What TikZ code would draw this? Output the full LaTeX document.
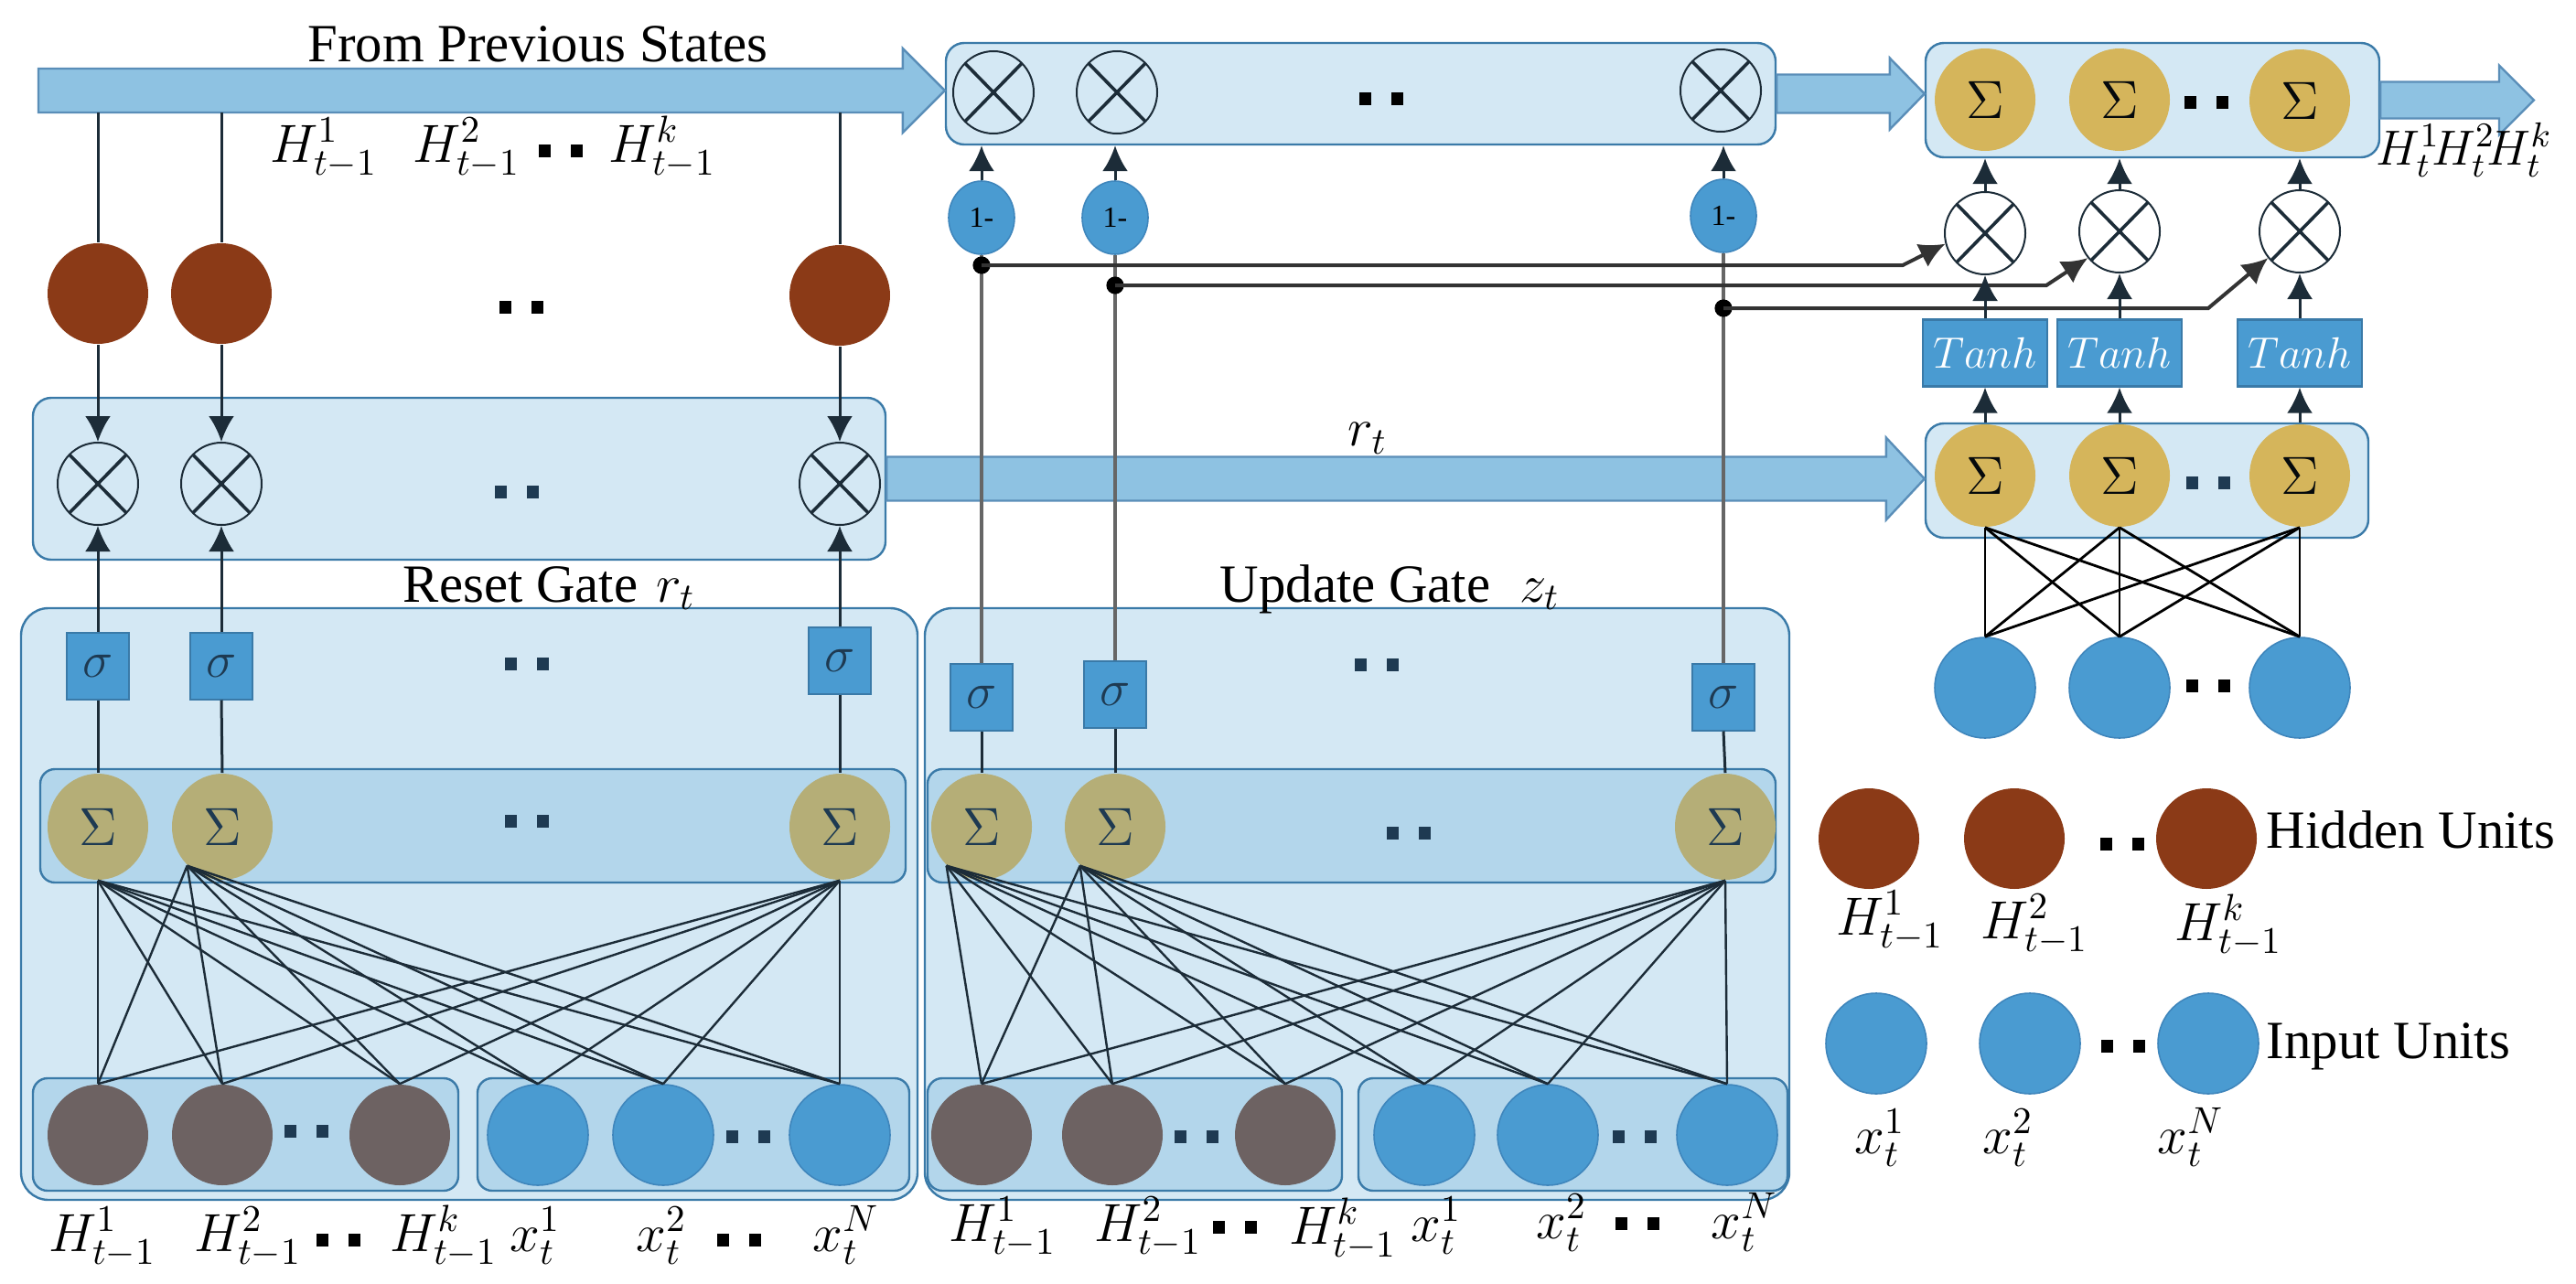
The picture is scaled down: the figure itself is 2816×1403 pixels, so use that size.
\RequirePackage{fix-cm}
\documentclass[tikz,border=0pt]{standalone}
\usepackage{fontspec}
\setmainfont{Liberation Serif}
\usetikzlibrary{shapes.geometric,arrows.meta,calc,fit}
\definecolor{boxfill}{HTML}{D4E8F4}
\definecolor{rowfill}{HTML}{B3D6EB}
\definecolor{boxline}{HTML}{3A7AA8}
\definecolor{arrfill}{HTML}{8EC2E2}
\definecolor{arrline}{HTML}{5A8EB8}
\definecolor{brownu}{HTML}{8B3A17}
\definecolor{hidu}{HTML}{6D6262}
\definecolor{blueu}{HTML}{4A9BD1}
\definecolor{blueline}{HTML}{3F86BC}
\definecolor{olivec}{HTML}{B5AE77}
\definecolor{goldc}{HTML}{D5B55B}
\definecolor{navy}{HTML}{1E3A52}
\definecolor{otc}{HTML}{1C2C38}
\newcommand\dd{\rule{3.25pt}{3.5pt}\hspace{5.5pt}\rule{3.25pt}{3.5pt}}
\newcommand\blockarrow[5]{%
  \draw[bigarr] ($(#1)+(0,-#3)$) -- ($(#2)+(-#5,-#3)$) -- ($(#2)+(-#5,-#4)$) -- (#2) -- ($(#2)+(-#5,#4)$) -- ($(#2)+(-#5,#3)$) -- ($(#1)+(0,#3)$) -- cycle;}
\begin{document}
\begin{tikzpicture}[x=0.25pt,y=-0.25pt,
  lbox/.style={draw=boxline, fill=boxfill, line width=0.6pt, rounded corners=5pt, inner sep=0pt},
  rbox/.style={draw=boxline, fill=rowfill, line width=0.6pt, rounded corners=4pt, inner sep=0pt},
  bigarr/.style={fill=arrfill, draw=arrline, line width=0.6pt},
  unit/.style={circle, minimum size=27.5pt, inner sep=0pt},
  brownunit/.style={unit, fill=brownu},
  hidunit/.style={unit, fill=hidu},
  inunit/.style={unit, fill=blueu, draw=blueline, line width=0.4pt},
  sumo/.style={ellipse, fill=olivec, minimum width=27.5pt, minimum height=29pt, inner sep=0pt, text=navy, font=\fontsize{14.7}{16}\selectfont},
  sumg/.style={ellipse, fill=goldc, minimum width=27.5pt, minimum height=28pt, inner sep=0pt, text=black!85!navy, font=\fontsize{14.7}{16}\selectfont},
  mult/.style={ellipse, draw=otc, line width=0.5pt, minimum width=22pt, minimum height=22.5pt, inner sep=0pt,
     path picture={\draw[otc, line width=0.9pt] (path picture bounding box.north west) -- (path picture bounding box.south east)
       (path picture bounding box.north east) -- (path picture bounding box.south west);}},
  sig/.style={rectangle, fill=blueu, draw=boxline, line width=0.5pt, minimum width=17pt, minimum height=18.25pt, inner sep=0pt, text=navy, font=\fontsize{14}{16}\selectfont},
  tanhbox/.style={rectangle, fill=blueu, draw=boxline, line width=0.6pt, minimum width=34pt, minimum height=18.25pt, inner sep=0pt, text=white, font=\fontsize{12}{14}\selectfont},
  onem/.style={ellipse, fill=blueu, draw=blueline, line width=0.4pt, minimum width=18pt, minimum height=20pt, inner sep=0pt, font=\fontsize{8}{9}\selectfont},
  dots/.style={inner sep=0pt, text=navy},
  dotsb/.style={inner sep=0pt, text=black},
  lab/.style={inner sep=0pt, font=\fontsize{14.7}{17}\selectfont},
  jdot/.style={circle, fill=black, minimum size=4.8pt, inner sep=0pt},
  ln/.style={draw=otc, line width=0.75pt},
  arr/.style={ln, -{Latex[length=7pt,width=7pt]}},
  gln/.style={draw=black!60, line width=1pt},
  wire/.style={draw=otc, line width=0.6pt},
  bwire/.style={draw=black, line width=0.7pt}
]
\useasboundingbox (0,0) rectangle (2816,1403);

% ---------------- containers ----------------
\node[lbox, rounded corners=7.5pt, fit={(23,665)(1003,1312)}] (rbig) {};
\node[rbox, fit={(44,841)(990,965)}] (rsumrow) {};
\node[rbox, fit={(36,1179)(501,1302)}] (rhidrow) {};
\node[rbox, fit={(522,1179)(994,1302)}] (rinrow) {};
\node[lbox, fit={(36,435)(968,612)}] (rmulrow) {};

\node[lbox, rounded corners=7.5pt, fit={(1011,665)(1956,1312)}] (ubig) {};
\node[rbox, fit={(1014,841)(1941,965)}] (usumrow) {};
\node[rbox, fit={(1014,1179)(1467,1302)}] (uhidrow) {};
\node[rbox, fit={(1485,1179)(1954,1302)}] (uinrow) {};
\node[lbox, fit={(1034,47)(1941,158)}] (umulrow) {};

\node[lbox, fit={(2105,47)(2601,172)}] (hsumrow) {};
\node[lbox, fit={(2105,463)(2589,588)}] (csumrow) {};

% ---------------- block arrows ----------------
\coordinate (a1s) at (42,99);
\coordinate (a1t) at (umulrow.west |- a1s);
\blockarrow{a1s}{a1t}{24}{46}{46}
\coordinate (a2t) at (hsumrow.west |- umulrow.east);
\blockarrow{umulrow.east}{a2t}{21}{39}{38}
\coordinate (a3t) at (2770,0 |- hsumrow.east);
\blockarrow{hsumrow.east}{a3t}{20}{38}{38}
\coordinate (a4t) at (csumrow.west |- rmulrow.east);
\blockarrow{rmulrow.east}{a4t}{24}{45}{42}
\coordinate (shaftb) at (0,123);

\node[lab, anchor=base] at (588,67) {From Previous States};
\node[lab] at (1495,479) {$r_t$};

% ---------------- reset gate ----------------
\node[brownunit] (b1) at (107,321) {};
\node[brownunit] (b2) at (242,321) {};
\node[brownunit] (b3) at (918,323) {};
\node[dotsb] at (570,336) {\dd};
\node[lab, anchor=base] at (354,177) {$H^{1}_{t-1}$};
\node[lab, anchor=base] at (510,177) {$H^{2}_{t-1}$};
\node[dotsb] at (613,165) {\dd};
\node[lab, anchor=base] at (724,177) {$H^{k}_{t-1}$};

\node[mult] (m1) at (107,529) {};
\node[mult] (m2) at (242,529) {};
\node[mult] (m3) at (918,529) {};
\node[dots] at (565,538) {\dd};

\node[lab, anchor=base west] at (440,658) {Reset Gate\hspace{5pt}$r_t$};

\node[sig] (rs1) at (107,728) {$\sigma$};
\node[sig] (rs2) at (242,728) {$\sigma$};
\node[sig] (rs3) at (918,722) {$\sigma$};
\node[dots] at (576,726) {\dd};

\node[sumo] (rS1) at (107,904) {$\Sigma$};
\node[sumo] (rS2) at (243,904) {$\Sigma$};
\node[sumo] (rS3) at (918,904) {$\Sigma$};
\node[dots] at (576,898) {\dd};

\node[hidunit] (rh1) at (107,1241) {};
\node[hidunit] (rh2) at (243,1241) {};
\node[hidunit] (rh3) at (437,1241) {};
\node[dots] at (335,1237) {\dd};
\node[inunit] (ri1) at (588,1241) {};
\node[inunit] (ri2) at (725,1241) {};
\node[inunit] (ri3) at (918,1241) {};
\node[dots] at (818,1243) {\dd};

\node[lab, anchor=base] at (112,1368) {$H^{1}_{t-1}$};
\node[lab, anchor=base] at (271,1368) {$H^{2}_{t-1}$};
\node[dotsb] at (370,1356) {\dd};
\node[lab, anchor=base] at (485,1368) {$H^{k}_{t-1}$};
\node[lab, anchor=base] at (585,1368) {$x^{1}_{t}$};
\node[lab, anchor=base] at (723,1368) {$x^{2}_{t}$};
\node[dotsb] at (808,1356) {\dd};
\node[lab, anchor=base] at (925,1368) {$x^{N}_{t}$};

% ---------------- update gate ----------------
\node[mult] (um1) at (1086,101) {};
\node[mult] (um2) at (1221,101) {};
\node[mult] (um3) at (1881,99) {};
\node[dotsb] at (1510,108) {\dd};

\node[onem] (o1) at (1073,238) {1-};
\node[onem] (o2) at (1219,238) {1-};
\node[onem] (o3) at (1884,236) {1-};

\node[lab, anchor=base west] at (1333,658) {Update Gate\hspace{8pt}$z_t$};

\node[sig] (us1) at (1073,762) {$\sigma$};
\node[sig] (us2) at (1219,759) {$\sigma$};
\node[sig] (us3) at (1884,762) {$\sigma$};
\node[dots] at (1505,727) {\dd};

\node[sumo] (uS1) at (1073,904) {$\Sigma$};
\node[sumo] (uS2) at (1219,904) {$\Sigma$};
\node[sumo] (uS3) at (1886,904) {$\Sigma$};
\node[dots] at (1540,911) {\dd};

\node[hidunit] (uh1) at (1073,1241) {};
\node[hidunit] (uh2) at (1216,1241) {};
\node[hidunit] (uh3) at (1405,1241) {};
\node[dots] at (1308,1243) {\dd};
\node[inunit] (ui1) at (1557,1241) {};
\node[inunit] (ui2) at (1692,1241) {};
\node[inunit] (ui3) at (1888,1241) {};
\node[dots] at (1787,1243) {\dd};

\node[lab, anchor=base] at (1096,1357) {$H^{1}_{t-1}$};
\node[lab, anchor=base] at (1255,1357) {$H^{2}_{t-1}$};
\node[dotsb] at (1350,1342) {\dd};
\node[lab, anchor=base] at (1468,1360) {$H^{k}_{t-1}$};
\node[lab, anchor=base] at (1570,1357) {$x^{1}_{t}$};
\node[lab, anchor=base] at (1707,1354) {$x^{2}_{t}$};
\node[dotsb] at (1790,1338) {\dd};
\node[lab, anchor=base] at (1907,1354) {$x^{N}_{t}$};

% ---------------- candidate / output ----------------
\node[sumg] (h1) at (2170,109) {$\Sigma$};
\node[sumg] (h2) at (2317,109) {$\Sigma$};
\node[sumg] (h3) at (2514,110) {$\Sigma$};
\node[dotsb] at (2412,112) {\dd};
\node[lab, font=\fontsize{13.5}{15}\selectfont, anchor=base west] at (2597,180) {$H_t^{1}\!H_t^{2}\!H_t^{k}$};

\node[mult] (x1) at (2170,255) {};
\node[mult] (x2) at (2317,253) {};
\node[mult] (x3) at (2514,253) {};

\node[tanhbox] (t1) at (2170,386) {$Tanh$};
\node[tanhbox] (t2) at (2317,386) {$Tanh$};
\node[tanhbox] (t3) at (2514,386) {$Tanh$};

\node[sumg] (c1) at (2170,520) {$\Sigma$};
\node[sumg] (c2) at (2317,520) {$\Sigma$};
\node[sumg] (c3) at (2514,520) {$\Sigma$};
\node[dots] at (2414,528) {\dd};

\node[inunit] (ci1) at (2170,752) {};
\node[inunit] (ci2) at (2317,752) {};
\node[inunit] (ci3) at (2514,752) {};
\node[dotsb] at (2414,750) {\dd};

% ---------------- legend ----------------
\node[brownunit] (lb1) at (2043,917) {};
\node[brownunit] (lb2) at (2202,917) {};
\node[brownunit] (lb3) at (2412,917) {};
\node[dotsb] at (2320,923) {\dd};
\node[lab, anchor=base west] at (2477,927) {Hidden Units};
\node[lab, anchor=base] at (2066,1022) {$H^{1}_{t-1}$};
\node[lab, anchor=base] at (2224,1026) {$H^{2}_{t-1}$};
\node[lab, anchor=base] at (2436,1028) {$H^{k}_{t-1}$};

\node[inunit] (li1) at (2051,1141) {};
\node[inunit] (li2) at (2219,1141) {};
\node[inunit] (li3) at (2414,1141) {};
\node[dotsb] at (2321,1144) {\dd};
\node[lab, anchor=base west] at (2477,1157) {Input Units};
\node[lab, anchor=base] at (2055,1261) {$x^{1}_{t}$};
\node[lab, anchor=base] at (2195,1261) {$x^{2}_{t}$};
\node[lab, anchor=base] at (2395,1261) {$x^{N}_{t}$};

% ---------------- connectors: reset ----------------
\foreach \b in {b1,b2,b3}{\draw[ln] (\b |- shaftb) -- (\b.north);}
\draw[arr] (b1.south) -- (m1.north);
\draw[arr] (b2.south) -- (m2.north);
\draw[arr] (b3.south) -- (m3.north);
\draw[arr] (rs1.north) -- (m1.south);
\draw[arr] (rs2.north) -- (m2.south);
\draw[arr] (rs3.north) -- (m3.south);
\draw[ln] (rS1.north) -- (rs1.south);
\draw[ln] (rS2.north) -- (rs2.south);
\draw[ln] (rS3.north) -- (rs3.south);
\foreach \s in {rS1.south,rS2.228,rS3.south}{\foreach \u in {rh1,rh2,rh3,ri1,ri2,ri3}{\draw[wire] (\s) -- (\u.north);}}

% ---------------- connectors: update ----------------
\draw[ln] (uS1.north) -- (us1.south);
\draw[ln] (uS2.north) -- (us2.south);
\draw[ln] (uS3.north) -- (us3.south);
\foreach \s in {uS1.228,uS2.228,uS3.south}{\foreach \u in {uh1,uh2,uh3,ui1,ui2,ui3}{\draw[wire] (\s) -- (\u.north);}}
\draw[gln] (us1.north) -- (o1.south);
\draw[gln] (us2.north) -- (o2.south);
\draw[gln] (us3.north) -- (o3.south);
\draw[arr] (o1.north) -- (o1.north |- umulrow.south);
\draw[arr] (o2.north) -- (o2.north |- umulrow.south);
\draw[arr] (o3.north) -- (o3.north |- umulrow.south);

\node[jdot] (j1) at (1073,290) {};
\node[jdot] (j2) at (1219,312) {};
\node[jdot] (j3) at (1884,337) {};
\coordinate (k1) at (2080,290);
\coordinate (k2) at (2237,312);
\coordinate (k3) at (2414,337);
\draw[gln, draw=black!80, -{Latex[length=7pt,width=7pt]}] (j1.center) -- (k1) -- (x1.195);
\draw[gln, draw=black!80, -{Latex[length=7pt,width=7pt]}] (j2.center) -- (k2) -- (x2.220);
\draw[gln, draw=black!80, -{Latex[length=7pt,width=7pt]}] (j3.center) -- (k3) -- (x3.220);

% ---------------- connectors: candidate ----------------
\draw[arr] (x1.north) -- (x1.north |- hsumrow.south);
\draw[arr] (x2.north) -- (x2.north |- hsumrow.south);
\draw[arr] (x3.north) -- (x3.north |- hsumrow.south);
\draw[arr] (t1.north) -- (x1.south);
\draw[arr] (t2.north) -- (x2.south);
\draw[arr] (t3.north) -- (x3.south);
\draw[arr] (c1.north |- csumrow.north) -- (t1.south);
\draw[arr] (c2.north |- csumrow.north) -- (t2.south);
\draw[arr] (c3.north |- csumrow.north) -- (t3.south);
\foreach \s in {c1,c2,c3}{\foreach \u in {ci1,ci2,ci3}{\draw[bwire] (\s.south) -- (\u.north);}}
\end{tikzpicture}
\end{document}
